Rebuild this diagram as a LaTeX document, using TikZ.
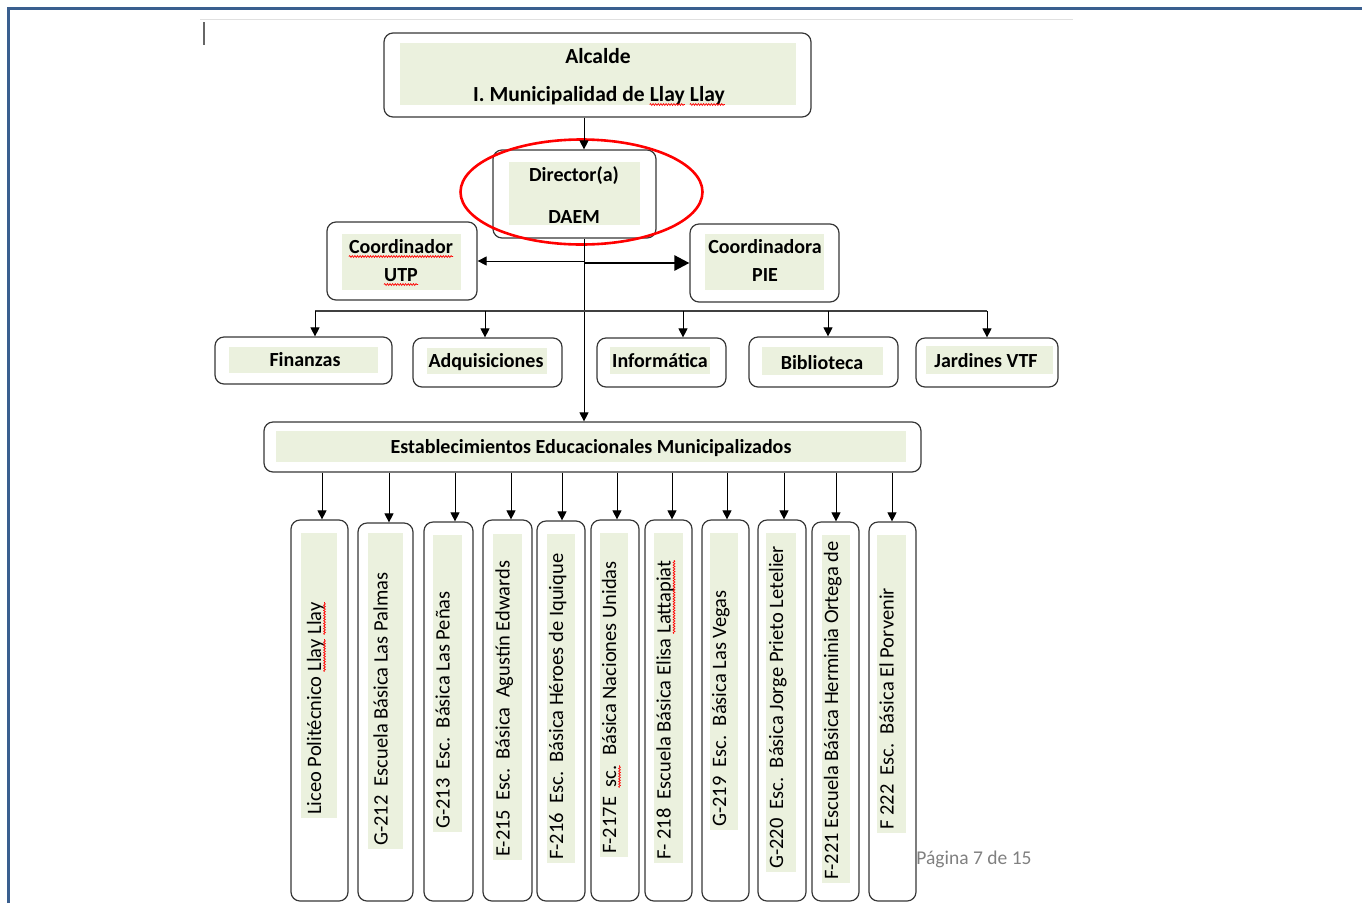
\documentclass[tikz,border=0pt]{standalone}
\usepackage{fontspec}
\setmainfont{Carlito}
\usetikzlibrary{arrows.meta,fit,shapes.geometric,decorations.pathmorphing}
\definecolor{frameblue}{RGB}{58,95,143}
\definecolor{lgreen}{RGB}{235,241,222}
\definecolor{boxline}{RGB}{55,55,55}
\tikzset{
  box/.style={draw=boxline, line width=1.2pt, rounded corners=9pt, fill=white, inner sep=0pt},
  gbox/.style={fill=lgreen, draw=none, inner sep=0pt},
  lbl/.style={font=\bfseries\fontsize{20}{24}\selectfont, inner sep=0pt, anchor=base},
  biglbl/.style={font=\bfseries\fontsize{21.5}{26}\selectfont, inner sep=0pt, anchor=base},
  sch/.style={font=\fontsize{20.5}{24}\selectfont, inner sep=0pt, rotate=90, anchor=base west},
  arr/.style={-{Triangle[length=9pt,width=9pt]}, line width=0.9pt, draw=black},
  bigarr/.style={-{Triangle[length=15pt,width=15pt]}, line width=2.6pt, draw=black},
  squig/.style={draw=red, line width=0.7pt, decorate, decoration={snake, amplitude=0.9pt, segment length=2.6pt}},
}
\begin{document}
\begin{tikzpicture}[x=1pt,y=-1pt]
\useasboundingbox (0,0) rectangle (1362,903);
% page frame and editor marks
\draw[frameblue, line width=3pt] (8.5,903) -- (8.5,8.5) -- (1362,8.5);
\draw[black!12, line width=1.5pt] (200,19.5) -- (1073,19.5);
\draw[black!60, line width=2pt] (204,22) -- (204,45);

\coordinate (spine) at (584,300);

% Alcalde
\node[box, fit={(384,33) (811,117)}] (alc) {};
\node[gbox, fit={(400,43) (796,105)}] (alcg) {};
\node[biglbl] (alc1) at (598,63) {Alcalde};
\node[biglbl, anchor=base west] (alc2) at (473,101) {I. Municipalidad de};
\node[biglbl, anchor=base west] (alc3) at ([xshift=4.9pt]alc2.base east) {Llay};
\node[biglbl, anchor=base west] (alc4) at ([xshift=4.9pt]alc3.base east) {Llay};
\draw[squig] ([yshift=-3.5pt]alc3.base west) -- ([yshift=-3.5pt]alc3.base east);
\draw[squig] ([yshift=-3.5pt]alc4.base west) -- ([yshift=-3.5pt]alc4.base east);

% Director
\node[box, fit={(493,150) (656,238)}] (dir) {};
\node[gbox, fit={(509,162) (640,225)}] (dirg) {};
\node[lbl] (dir1) at (574,181) {Director(a)};
\node[lbl] (dir2) at (574,223) {DAEM};
\node[draw=red, line width=2.6pt, ellipse, minimum width=242pt, minimum height=105pt, inner sep=0pt] (ell) at (581.5,192) {};

% Coordinador UTP
\node[box, fit={(327,222) (477,300)}] (utp) {};
\node[gbox, fit={(342,234) (461,290)}] (utpg) {};
\node[lbl] (utp1) at (401,253) {Coordinador};
\node[lbl] (utp2) at (401,281) {UTP};
\draw[squig] ([yshift=-3.5pt]utp1.base west) -- ([yshift=-3.5pt]utp1.base east);
\draw[squig] ([yshift=-3.5pt]utp2.base west) -- ([yshift=-3.5pt]utp2.base east);

% Coordinadora PIE
\node[box, fit={(690,224) (839,302)}] (pie) {};
\node[gbox, fit={(705,234) (824,290)}] (pieg) {};
\node[lbl] (pie1) at (765,253) {Coordinadora};
\node[lbl] (pie2) at (765,281) {PIE};

% second row
\node[box, fit={(215,337) (392,384)}] (fin) {};
\node[gbox, fit={(229,347) (378,373)}] (fing) {};
\node[lbl] (fint) at (305,366) {Finanzas};

\node[box, fit={(413,338) (562,387)}] (adq) {};
\node[gbox, fit={(427,348) (547,374)}] (adqg) {};
\node[lbl] (adqt) at (486,367) {Adquisiciones};

\node[box, fit={(597,338) (726,387)}] (inf) {};
\node[gbox, fit={(610,347) (710,374)}] (infg) {};
\node[lbl] (inft) at (660,367) {Informática};

\node[box, fit={(749,337) (898,387)}] (bib) {};
\node[gbox, fit={(762,347) (883,375)}] (bibg) {};
\node[lbl] (bibt) at (822,369) {Biblioteca};

\node[box, fit={(916,338) (1058,387)}] (jar) {};
\node[gbox, fit={(926,346) (1053,374)}] (jarg) {};
\node[lbl] (jart) at (986,367) {Jardines VTF};

% Establecimientos
\node[box, fit={(264,422) (921,472)}] (est) {};
\node[gbox, fit={(276,431) (906,462)}] (estg) {};
\node[lbl] (estt) at (591,453) {Establecimientos Educacionales Municipalizados};

% connectors
\draw[arr] (alc.south -| spine) -- (dir.north -| spine);
\draw[arr] (dir.south -| spine) -- (est.north -| spine);
\draw[arr] (spine |- utp.east) -- (utp.east);
\draw[bigarr] (spine |- pie.west) -- (pie.west);

\coordinate (b1) at (315,311);
\coordinate (b2) at (485,311);
\coordinate (b3) at (683,311);
\coordinate (b4) at (828,311);
\coordinate (b5) at (987,311);
\draw[black!75, line width=1.6pt] (b1) -- (b5);
\draw[arr] (b1) -- (b1 |- fin.north);
\draw[arr] (b2) -- (b2 |- adq.north);
\draw[arr] (b3) -- (b3 |- inf.north);
\draw[arr] (b4) -- (b4 |- bib.north);
\draw[arr] (b5) -- (b5 |- jar.north);

% schools
\foreach \n/\xl/\xr/\tp/\gxl/\gxr/\gyt/\gyb/\ax/\txt in {
 s1/291/348/520/301/337/533/818/322/{Liceo Politécnico},
 s2/358/413/523/368/403/533/849/389/{G-212\ \ Escuela Básica Las Palmas},
 s3/424/473/522/433/462/535/832/455/{G-213\ \ Esc.\ \ Básica Las Peñas},
 s4/483/532/520/493/522/534/860/511/{E-215\ \ Esc.\ \ Básica\ \ Agustín Edwards},
 s5/537/585/521/547/575/534/863/562/{F-216\ \ Esc.\ \ Básica Héroes de Iquique},
 s6/591/639/520/600/628/533/857/617/{F-217E},
 s7/645/692/520/654/683/533/863/672/{F-\ 218\ \ Escuela Básica Elisa},
 s8/702/749/520/710/738/533/830/727/{G-219\ \ Esc.\ \ Básica Las Vegas},
 s9/758/806/520/766/796/533/872/784/{G-220\ \ Esc.\ \ Básica Jorge Prieto Letelier},
 s10/812/859/522/822/850/535/883/836/{F-221 Escuela Básica Herminia Ortega de},
 s11/869/916/522/877/906/535/833/892/{F 222\ \ Esc.\ \ Básica El Porvenir}}{
  \node[box, fit={(\xl,\tp) (\xr,901)}] (\n) {};
  \node[gbox, fit={(\gxl,\gyt) (\gxr,\gyb)}] (\n g) {};
  \node[sch] (\n t) at ({(\gxl+\gxr)/2+2},\gyb-3) {\txt};
  \coordinate (\n a) at (\ax,480);
  \draw[arr] (est.south -| \n a) -- (\n.north -| \n a);
}
% continued school texts with spell-check marks
\node[sch] (s1u) at ([yshift=4.6pt]s1t.base east) {Llay};
\node[sch] (s1v) at ([yshift=4.6pt]s1u.base east) {Llay};
\node[sch] (s6u) at ([yshift=9.2pt]s6t.base east) {sc.};
\node[sch] (s6v) at ([yshift=9.2pt]s6u.base east) {Básica Naciones Unidas};
\node[sch] (s7u) at ([yshift=4.6pt]s7t.base east) {Lattapiat};
\foreach \w in {s1u,s1v,s6u,s7u}{
  \draw[squig] ([xshift=3.5pt]\w.base west) -- ([xshift=3.5pt]\w.base east);
}

\node[font=\fontsize{19.5}{23}\selectfont, text=black!50, anchor=base, inner sep=0pt] (pg) at (974,864) {Página 7 de 15};
\end{tikzpicture}
\end{document}
